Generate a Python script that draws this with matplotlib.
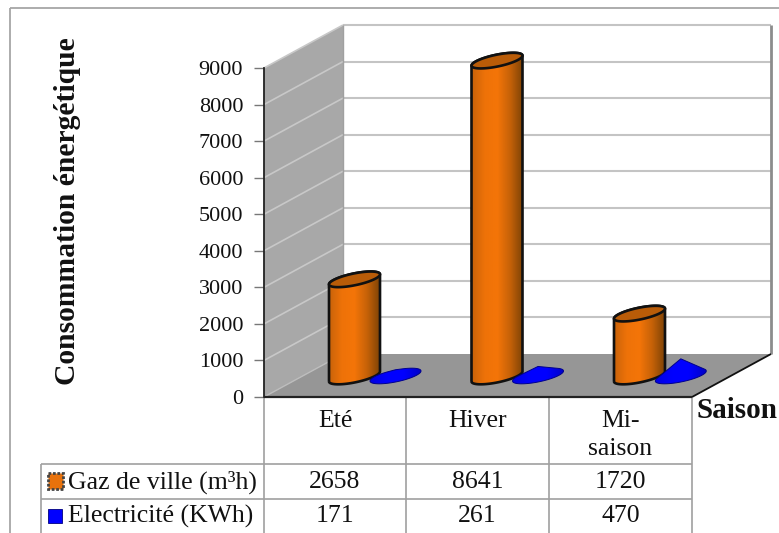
import numpy as np
import matplotlib
matplotlib.use("Agg")
import matplotlib.pyplot as plt
from matplotlib.colors import LinearSegmentedColormap
from matplotlib.patches import Polygon, PathPatch
from matplotlib.path import Path

categories = ["Eté", "Hiver", "Mi-\nsaison"]
gaz_values = [2658, 8641, 1720]
elec_values = [171, 261, 470]
series_names = ["Gaz de ville (m³h)", "Electricité (KWh)"]
y_ticks = [0, 1000, 2000, 3000, 4000, 5000, 6000, 7000, 8000, 9000]
y_title = "Consommation énergétique"
x_title = "Saison"

W, H = 779, 533
L, R, B, T = 264, 692, 397, 68
DX, DY = 79, -43
plt.rcParams['font.family'] = ['Liberation Serif', 'DejaVu Serif']

fig = plt.figure(figsize=(W / 100, H / 100), dpi=100, facecolor="white")
ax = fig.add_axes([L / W, (H - B) / H, (R - L) / W, (B - T) / H], facecolor="none")
ax.set_xlim(0, 3)
ax.set_ylim(0, 9000)


def X(px):
    return (np.asarray(px, float) - L) / (R - L) * 3


def Y(py):
    return (B - np.asarray(py, float)) / (B - T) * 9000


def P(pts):
    a = np.asarray(pts, float)
    return np.column_stack([X(a[:, 0]), Y(a[:, 1])])


def line(xs, ys, color, lw, z=2):
    ax.plot(X(xs), Y(ys), color=color, lw=lw, clip_on=False, zorder=z, solid_capstyle="butt")


def vpx(v):
    return v / 9000 * (B - T)


# outer frame
line([10, 10], [533, 8], "#a6a6a6", 1.3)
line([10, 779], [8, 8], "#a6a6a6", 1.3)

# walls and floor
ax.add_patch(Polygon(P([(L, B), (L, T), (L + DX, T + DY), (L + DX, B + DY)]), fc="#a8a8a8", ec="none", zorder=1, clip_on=False))
ax.add_patch(Polygon(P([(L, B), (R, B), (R + DX, B + DY), (L + DX, B + DY)]), fc="#969696", ec="none", zorder=1, clip_on=False))
for t in y_ticks[1:]:
    yf = B - vpx(t)
    line([L, L + DX], [yf, yf + DY], "#c8c8c8", 1.2)
    line([L + DX, R + DX], [yf + DY, yf + DY], "#c4c4c4", 1.5)
line([R + DX, R + DX], [T + DY, B + DY], "#8c8c8c", 2)
line([L + DX, L + DX], [T + DY, B + DY], "#a0a0a0", 1)
line([R, R + DX], [B, B + DY], "#111111", 1.3, 3)
line([L, R], [B, B], "#222222", 1.6, 3)
line([L, L + DX], [B, B + DY], "#bdbdbd", 1, 2)

# axis
ax.set_yticks(y_ticks)
ax.set_yticklabels([str(t) for t in y_ticks], fontsize=16, color="#111111")
ax.tick_params(axis="y", length=7, width=1, color="#777777", pad=8)
ax.set_xticks([])
for s in ["top", "right", "bottom"]:
    ax.spines[s].set_visible(False)
ax.spines["left"].set_color("#222222")
ax.spines["left"].set_linewidth(1.3)
ax.spines["left"].set_zorder(3)

ORANGE = LinearSegmentedColormap.from_list("o", ["#c9630a", "#ee7208", "#f47508", "#c66208", "#7e4306"])
BLUE = LinearSegmentedColormap.from_list("b", ["#0000e0", "#0000ff", "#0000ff", "#0000c8"])
A, S, E = 25.5, 5.0, 6.0
t = np.linspace(0, 2 * np.pi, 121)


def ellipse(cx, cy):
    return np.column_stack([cx + A * np.cos(t), cy - S * np.cos(t) + E * np.sin(t)])


def hgrad(cmap, x0, x1, y0, y1, clip, z):
    im = ax.imshow(np.linspace(0, 1, 128)[None, :], cmap=cmap, aspect="auto", interpolation="bilinear",
                   extent=[X(x0), X(x1), Y(y1), Y(y0)], zorder=z)
    im.set_clip_path(clip)
    im.set_clip_box(fig.bbox)


def hull(pts):
    p = sorted(map(tuple, pts))
    def half(seq):
        h = []
        for q in seq:
            while len(h) > 1 and (h[-1][0] - h[-2][0]) * (q[1] - h[-2][1]) - (h[-1][1] - h[-2][1]) * (q[0] - h[-2][0]) <= 0:
                h.pop()
            h.append(q)
        return h[:-1]
    return np.array(half(p) + half(p[::-1]))


GAS_X = [354.5, 497, 639.5]
ELEC_X = [395.5, 538, 680.8]
GAS_BASE = 376.5
ELEC_BASE = 376

for cx, v in zip(GAS_X, gaz_values):
    top = GAS_BASE - vpx(v)
    tt = np.linspace(np.pi, 0, 61)  # lower half of the base, left to right
    base = np.column_stack([cx + A * np.cos(tt), GAS_BASE - S * np.cos(tt) + E * np.sin(tt)])
    tu = np.linspace(0, -np.pi, 61)  # upper half of the top, right to left
    up = np.column_stack([cx + A * np.cos(tu), top - S * np.cos(tu) + E * np.sin(tu)])
    body = P(np.vstack([base, up]))
    patch = PathPatch(Path(np.vstack([body, body[0]])), fc="none", ec="#111111", lw=1.9, zorder=6, clip_on=False)
    ax.add_patch(patch)
    hgrad(ORANGE, cx - A, cx + A, top - 12, GAS_BASE + 12, patch, 5)
    ax.add_patch(Polygon(P(ellipse(cx, top)), fc="#b95c08", ec="#111111", lw=1.9, zorder=7, clip_on=False))

for cx, v in zip(ELEC_X, elec_values):
    pts = np.vstack([ellipse(cx, ELEC_BASE), [[cx, ELEC_BASE - vpx(v)]]])
    h = P(hull(pts))
    patch = PathPatch(Path(np.vstack([h, h[0]])), fc="none", ec="#00008c", lw=0.7, zorder=9, clip_on=False)
    ax.add_patch(patch)
    hgrad(BLUE, cx - A, cx + A, ELEC_BASE - vpx(v) - 8, ELEC_BASE + 12, patch, 8)

# data table
ROWS = [464, 499]
COLS = [L, 406, 549, R]
for c in COLS:
    line([c, c], [B, H], "#a0a0a0", 1.2, 2)
line([41, 41], [ROWS[0], H], "#a0a0a0", 1.2, 2)
for r in ROWS:
    line([41, R], [r, r], "#a0a0a0", 1.2, 2)

FS = 18.5
for i, c in enumerate(categories):
    cx = (COLS[i] + COLS[i + 1]) / 2
    ax.text(X(cx), Y(410), c, ha="center", va="top", fontsize=FS, color="#111111", linespacing=1.38, clip_on=False)
    ax.text(X(cx), Y(482), str(gaz_values[i]), ha="center", va="center", fontsize=FS, color="#111111")
    ax.text(X(cx), Y(516), str(elec_values[i]), ha="center", va="center", fontsize=FS, color="#111111")

ax.add_patch(Polygon(P([(48, 473), (63, 473), (63, 489), (48, 489)]), fc="#e8720c", ec="#444444", lw=2, ls=(0, (1, 0.6)), zorder=4, clip_on=False))
ax.add_patch(Polygon(P([(48, 509), (62, 509), (62, 523), (48, 523)]), fc="#0000ff", ec="#000080", lw=0.6, zorder=4, clip_on=False))
ax.text(X(68), Y(482), series_names[0], ha="left", va="center", fontsize=FS, color="#111111")
ax.text(X(68), Y(516), series_names[1], ha="left", va="center", fontsize=FS, color="#111111")

ax.text(X(68), Y(211), y_title, rotation=90, ha="center", va="center", fontsize=21.3, fontweight="bold", color="#111111")
ax.text(X(737), Y(411), x_title, ha="center", va="center", fontsize=21, fontweight="bold", color="#111111")

ax.set_xlim(0, 3)
ax.set_ylim(0, 9000)
fig.savefig("out.png", dpi=100)
